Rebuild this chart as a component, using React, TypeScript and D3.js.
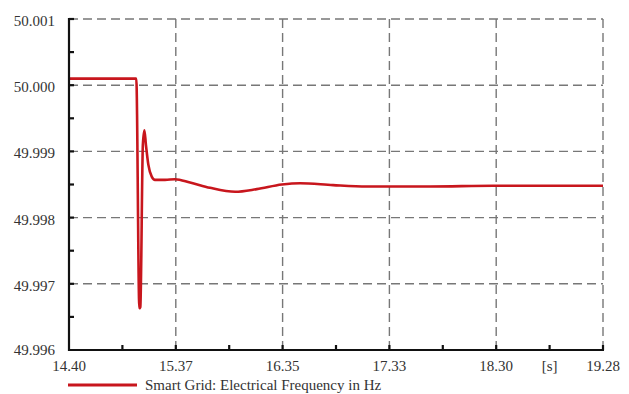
import React, { useEffect, useRef } from "react";
import * as d3 from "d3";

// time [s] and frequency [Hz]
const times = [
  14.4, 14.7, 15.0, 15.015, 15.043, 15.052, 15.075, 15.089, 15.103, 15.125, 15.156, 15.186,
  15.278, 15.369, 15.506, 15.689, 15.918, 16.116, 16.345, 16.512, 16.814, 17.122, 17.7,
  18.277, 18.8, 19.28,
];
const freq = [
  50.0001, 50.0001, 50.0001, 50.0001, 49.99663, 49.99665, 49.9991, 49.99932, 49.9991,
  49.9988, 49.99862, 49.99857, 49.99857, 49.99858, 49.99853, 49.99845, 49.99839, 49.99843,
  49.9985, 49.99852, 49.99849, 49.99847, 49.99847, 49.99848, 49.99848, 49.99848,
];

const yTicks = [49.996, 49.997, 49.998, 49.999, 50.0, 50.001];
const xTickLabels = ["14.40", "15.37", "16.35", "17.33", "18.30", "19.28"];
const xStart = 14.4;
const xEnd = 19.28;
const unitLabel = "[s]";
const legendLabel = "Smart Grid: Electrical Frequency in Hz";

const App = () => {
  const svgRef = useRef<SVGSVGElement>(null);

  useEffect(() => {
    document.body.style.margin = "0";
    const svg = d3.select(svgRef.current);
    svg.selectAll("*").remove();

    const width = 629;
    const height = 394;
    const margin = { top: 19, right: 26, bottom: 44, left: 69 };
    const font = "'Liberation Serif', 'Times New Roman', serif";
    const textColor = "#333";

    const x = d3.scaleLinear().domain([xStart, xEnd]).range([margin.left, width - margin.right]);
    const y = d3
      .scaleLinear()
      .domain([49.996, 50.001])
      .range([height - margin.bottom, margin.top]);

    const step = (xEnd - xStart) / (xTickLabels.length - 1);
    const xTicks = xTickLabels.map((_, i) => xStart + i * step);
    const xMinor = xTicks.slice(0, -1).map((t) => t + step / 2);
    const yMinor = yTicks.slice(0, -1).map((t) => t + 0.0005);

    const x0 = x(xStart);
    const x1 = x(xEnd);
    const y0 = y(49.996);
    const y1 = y(50.001);

    //dashed grid
    const grid = svg.append("g").attr("stroke", "#777").attr("stroke-width", 1.4).attr("stroke-dasharray", "9,5");
    yTicks.slice(1).forEach((t) => {
      grid.append("line").attr("x1", x0).attr("x2", x1).attr("y1", y(t)).attr("y2", y(t));
    });
    xTicks.slice(1).forEach((t) => {
      grid.append("line").attr("x1", x(t)).attr("x2", x(t)).attr("y1", y0).attr("y2", y1);
    });

    //line
    const pts = times.map((t, i) => [t, freq[i]] as [number, number]);
    const line = d3
      .line<[number, number]>()
      .x((d) => x(d[0]))
      .y((d) => y(d[1]))
      .curve(d3.curveMonotoneX);
    svg
      .append("path")
      .datum(pts)
      .attr("fill", "none")
      .attr("stroke", "#c8161d")
      .attr("stroke-width", 2.6)
      .attr("stroke-linejoin", "round")
      .attr("d", line);

    //axes
    const ax = svg.append("g").attr("stroke", "#111").attr("stroke-width", 2.2);
    ax.append("line").attr("x1", x0).attr("x2", x0).attr("y1", y1 - 1).attr("y2", y0 + 1);
    ax.append("line").attr("x1", x0 - 1).attr("x2", x1 + 1).attr("y1", y0).attr("y2", y0);
    [...xTicks.slice(1), ...xMinor].forEach((t) => {
      ax.append("line").attr("x1", x(t)).attr("x2", x(t)).attr("y1", y0).attr("y2", y0 - 5);
    });
    [...yTicks.slice(1), ...yMinor].forEach((t) => {
      ax.append("line").attr("x1", x0).attr("x2", x0 + 5).attr("y1", y(t)).attr("y2", y(t));
    });

    //tick labels
    svg
      .append("g")
      .selectAll("text")
      .data(yTicks)
      .enter()
      .append("text")
      .attr("x", x0 - 14)
      .attr("y", (d, i) => y(d) + (i === 0 ? 5 : 7))
      .attr("text-anchor", "end")
      .attr("font-family", font)
      .attr("font-size", 15)
      .attr("fill", textColor)
      .text((d) => d3.format(".3f")(d));

    svg
      .append("g")
      .selectAll("text")
      .data(xTicks)
      .enter()
      .append("text")
      .attr("x", (d) => x(d))
      .attr("y", y0 + 21)
      .attr("text-anchor", "middle")
      .attr("font-family", font)
      .attr("font-size", 15)
      .attr("fill", textColor)
      .text((_, i) => xTickLabels[i]);

    svg
      .append("text")
      .attr("x", x(xMinor[xMinor.length - 1]))
      .attr("y", y0 + 21)
      .attr("text-anchor", "middle")
      .attr("font-family", font)
      .attr("font-size", 15)
      .attr("fill", textColor)
      .text(unitLabel);

    //legend
    svg
      .append("line")
      .attr("x1", 68)
      .attr("x2", 137)
      .attr("y1", 385)
      .attr("y2", 385)
      .attr("stroke", "#c8161d")
      .attr("stroke-width", 3);
    svg
      .append("text")
      .attr("x", 145)
      .attr("y", 390)
      .attr("font-family", font)
      .attr("font-size", 15)
      .attr("fill", textColor)
      .text(legendLabel);
  }, []);

  return <svg ref={svgRef} width={629} height={394} style={{ display: "block", background: "#fff" }} />;
};

export default App;
